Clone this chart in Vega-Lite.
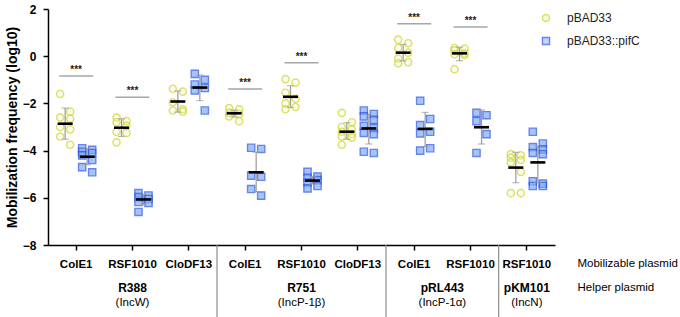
{
  "$schema": "https://vega.github.io/schema/vega-lite/v6.json",
  "width": 507,
  "height": 236,
  "autosize": {"type": "none"},
  "padding": {"left": 48, "top": 9, "right": 125, "bottom": 72},
  "background": "white",
  "config": {
    "font": "Liberation Sans",
    "view": {"stroke": null},
    "axis": {"grid": false, "domainColor": "black", "domainWidth": 1.5, "tickColor": "black", "tickWidth": 1.5, "tickSize": 5, "labelColor": "black", "titleColor": "black", "labelFont": "Liberation Sans", "titleFont": "Liberation Sans"},
    "text": {"font": "Liberation Sans"}
  },
  "datasets": {
    "points": [
      {"group": "R388|ColE1", "strain": "pBAD33", "freq": -1.6},
      {"group": "R388|ColE1", "strain": "pBAD33", "freq": -2.35},
      {"group": "R388|ColE1", "strain": "pBAD33", "freq": -2.6},
      {"group": "R388|ColE1", "strain": "pBAD33", "freq": -2.65},
      {"group": "R388|ColE1", "strain": "pBAD33", "freq": -3.0},
      {"group": "R388|ColE1", "strain": "pBAD33", "freq": -3.1},
      {"group": "R388|ColE1", "strain": "pBAD33", "freq": -3.4},
      {"group": "R388|ColE1", "strain": "pBAD33", "freq": -3.75},
      {"group": "R388|ColE1", "strain": "pBAD33::pifC", "freq": -3.9},
      {"group": "R388|ColE1", "strain": "pBAD33::pifC", "freq": -3.97},
      {"group": "R388|ColE1", "strain": "pBAD33::pifC", "freq": -4.05},
      {"group": "R388|ColE1", "strain": "pBAD33::pifC", "freq": -4.1},
      {"group": "R388|ColE1", "strain": "pBAD33::pifC", "freq": -4.2},
      {"group": "R388|ColE1", "strain": "pBAD33::pifC", "freq": -4.4},
      {"group": "R388|ColE1", "strain": "pBAD33::pifC", "freq": -4.7},
      {"group": "R388|ColE1", "strain": "pBAD33::pifC", "freq": -4.92},
      {"group": "R388|RSF1010", "strain": "pBAD33", "freq": -2.6},
      {"group": "R388|RSF1010", "strain": "pBAD33", "freq": -2.75},
      {"group": "R388|RSF1010", "strain": "pBAD33", "freq": -2.8},
      {"group": "R388|RSF1010", "strain": "pBAD33", "freq": -2.95},
      {"group": "R388|RSF1010", "strain": "pBAD33", "freq": -3.2},
      {"group": "R388|RSF1010", "strain": "pBAD33", "freq": -3.25},
      {"group": "R388|RSF1010", "strain": "pBAD33", "freq": -3.65},
      {"group": "R388|RSF1010", "strain": "pBAD33::pifC", "freq": -5.8},
      {"group": "R388|RSF1010", "strain": "pBAD33::pifC", "freq": -5.9},
      {"group": "R388|RSF1010", "strain": "pBAD33::pifC", "freq": -5.97},
      {"group": "R388|RSF1010", "strain": "pBAD33::pifC", "freq": -6.05},
      {"group": "R388|RSF1010", "strain": "pBAD33::pifC", "freq": -6.18},
      {"group": "R388|RSF1010", "strain": "pBAD33::pifC", "freq": -6.22},
      {"group": "R388|RSF1010", "strain": "pBAD33::pifC", "freq": -6.6},
      {"group": "R388|CloDF13", "strain": "pBAD33", "freq": -1.38},
      {"group": "R388|CloDF13", "strain": "pBAD33", "freq": -1.5},
      {"group": "R388|CloDF13", "strain": "pBAD33", "freq": -1.95},
      {"group": "R388|CloDF13", "strain": "pBAD33", "freq": -2.25},
      {"group": "R388|CloDF13", "strain": "pBAD33", "freq": -2.3},
      {"group": "R388|CloDF13", "strain": "pBAD33", "freq": -2.35},
      {"group": "R388|CloDF13", "strain": "pBAD33::pifC", "freq": -0.75},
      {"group": "R388|CloDF13", "strain": "pBAD33::pifC", "freq": -1.0},
      {"group": "R388|CloDF13", "strain": "pBAD33::pifC", "freq": -1.2},
      {"group": "R388|CloDF13", "strain": "pBAD33::pifC", "freq": -1.35},
      {"group": "R388|CloDF13", "strain": "pBAD33::pifC", "freq": -1.45},
      {"group": "R388|CloDF13", "strain": "pBAD33::pifC", "freq": -2.3},
      {"group": "R751|ColE1", "strain": "pBAD33", "freq": -2.2},
      {"group": "R751|ColE1", "strain": "pBAD33", "freq": -2.25},
      {"group": "R751|ColE1", "strain": "pBAD33", "freq": -2.4},
      {"group": "R751|ColE1", "strain": "pBAD33", "freq": -2.45},
      {"group": "R751|ColE1", "strain": "pBAD33", "freq": -2.55},
      {"group": "R751|ColE1", "strain": "pBAD33", "freq": -2.75},
      {"group": "R751|ColE1", "strain": "pBAD33::pifC", "freq": -3.88},
      {"group": "R751|ColE1", "strain": "pBAD33::pifC", "freq": -3.93},
      {"group": "R751|ColE1", "strain": "pBAD33::pifC", "freq": -5.06},
      {"group": "R751|ColE1", "strain": "pBAD33::pifC", "freq": -5.11},
      {"group": "R751|ColE1", "strain": "pBAD33::pifC", "freq": -5.63},
      {"group": "R751|ColE1", "strain": "pBAD33::pifC", "freq": -5.91},
      {"group": "R751|RSF1010", "strain": "pBAD33", "freq": -0.97},
      {"group": "R751|RSF1010", "strain": "pBAD33", "freq": -1.12},
      {"group": "R751|RSF1010", "strain": "pBAD33", "freq": -1.55},
      {"group": "R751|RSF1010", "strain": "pBAD33", "freq": -1.8},
      {"group": "R751|RSF1010", "strain": "pBAD33", "freq": -2.0},
      {"group": "R751|RSF1010", "strain": "pBAD33", "freq": -2.15},
      {"group": "R751|RSF1010", "strain": "pBAD33", "freq": -2.25},
      {"group": "R751|RSF1010", "strain": "pBAD33::pifC", "freq": -4.9},
      {"group": "R751|RSF1010", "strain": "pBAD33::pifC", "freq": -5.1},
      {"group": "R751|RSF1010", "strain": "pBAD33::pifC", "freq": -5.15},
      {"group": "R751|RSF1010", "strain": "pBAD33::pifC", "freq": -5.25},
      {"group": "R751|RSF1010", "strain": "pBAD33::pifC", "freq": -5.35},
      {"group": "R751|RSF1010", "strain": "pBAD33::pifC", "freq": -5.5},
      {"group": "R751|RSF1010", "strain": "pBAD33::pifC", "freq": -5.6},
      {"group": "R751|CloDF13", "strain": "pBAD33", "freq": -2.4},
      {"group": "R751|CloDF13", "strain": "pBAD33", "freq": -2.8},
      {"group": "R751|CloDF13", "strain": "pBAD33", "freq": -3.0},
      {"group": "R751|CloDF13", "strain": "pBAD33", "freq": -3.1},
      {"group": "R751|CloDF13", "strain": "pBAD33", "freq": -3.2},
      {"group": "R751|CloDF13", "strain": "pBAD33", "freq": -3.3},
      {"group": "R751|CloDF13", "strain": "pBAD33", "freq": -3.4},
      {"group": "R751|CloDF13", "strain": "pBAD33", "freq": -3.45},
      {"group": "R751|CloDF13", "strain": "pBAD33", "freq": -3.75},
      {"group": "R751|CloDF13", "strain": "pBAD33::pifC", "freq": -2.3},
      {"group": "R751|CloDF13", "strain": "pBAD33::pifC", "freq": -2.45},
      {"group": "R751|CloDF13", "strain": "pBAD33::pifC", "freq": -2.55},
      {"group": "R751|CloDF13", "strain": "pBAD33::pifC", "freq": -2.7},
      {"group": "R751|CloDF13", "strain": "pBAD33::pifC", "freq": -2.95},
      {"group": "R751|CloDF13", "strain": "pBAD33::pifC", "freq": -3.05},
      {"group": "R751|CloDF13", "strain": "pBAD33::pifC", "freq": -3.25},
      {"group": "R751|CloDF13", "strain": "pBAD33::pifC", "freq": -3.3},
      {"group": "R751|CloDF13", "strain": "pBAD33::pifC", "freq": -4.05},
      {"group": "R751|CloDF13", "strain": "pBAD33::pifC", "freq": -4.1},
      {"group": "pRL443|ColE1", "strain": "pBAD33", "freq": 0.7},
      {"group": "pRL443|ColE1", "strain": "pBAD33", "freq": 0.55},
      {"group": "pRL443|ColE1", "strain": "pBAD33", "freq": 0.35},
      {"group": "pRL443|ColE1", "strain": "pBAD33", "freq": 0.15},
      {"group": "pRL443|ColE1", "strain": "pBAD33", "freq": -0.1},
      {"group": "pRL443|ColE1", "strain": "pBAD33", "freq": -0.25},
      {"group": "pRL443|ColE1", "strain": "pBAD33", "freq": -0.3},
      {"group": "pRL443|ColE1", "strain": "pBAD33::pifC", "freq": -1.89},
      {"group": "pRL443|ColE1", "strain": "pBAD33::pifC", "freq": -2.66},
      {"group": "pRL443|ColE1", "strain": "pBAD33::pifC", "freq": -2.92},
      {"group": "pRL443|ColE1", "strain": "pBAD33::pifC", "freq": -3.2},
      {"group": "pRL443|ColE1", "strain": "pBAD33::pifC", "freq": -3.27},
      {"group": "pRL443|ColE1", "strain": "pBAD33::pifC", "freq": -3.9},
      {"group": "pRL443|ColE1", "strain": "pBAD33::pifC", "freq": -4.0},
      {"group": "pRL443|RSF1010", "strain": "pBAD33", "freq": 0.35},
      {"group": "pRL443|RSF1010", "strain": "pBAD33", "freq": 0.32},
      {"group": "pRL443|RSF1010", "strain": "pBAD33", "freq": 0.25},
      {"group": "pRL443|RSF1010", "strain": "pBAD33", "freq": 0.12},
      {"group": "pRL443|RSF1010", "strain": "pBAD33", "freq": 0.08},
      {"group": "pRL443|RSF1010", "strain": "pBAD33", "freq": 0.05},
      {"group": "pRL443|RSF1010", "strain": "pBAD33", "freq": -0.55},
      {"group": "pRL443|RSF1010", "strain": "pBAD33::pifC", "freq": -2.4},
      {"group": "pRL443|RSF1010", "strain": "pBAD33::pifC", "freq": -2.5},
      {"group": "pRL443|RSF1010", "strain": "pBAD33::pifC", "freq": -2.75},
      {"group": "pRL443|RSF1010", "strain": "pBAD33::pifC", "freq": -3.3},
      {"group": "pRL443|RSF1010", "strain": "pBAD33::pifC", "freq": -4.1},
      {"group": "pKM101|RSF1010", "strain": "pBAD33", "freq": -4.15},
      {"group": "pKM101|RSF1010", "strain": "pBAD33", "freq": -4.2},
      {"group": "pKM101|RSF1010", "strain": "pBAD33", "freq": -4.3},
      {"group": "pKM101|RSF1010", "strain": "pBAD33", "freq": -4.4},
      {"group": "pKM101|RSF1010", "strain": "pBAD33", "freq": -4.5},
      {"group": "pKM101|RSF1010", "strain": "pBAD33", "freq": -4.9},
      {"group": "pKM101|RSF1010", "strain": "pBAD33", "freq": -5.8},
      {"group": "pKM101|RSF1010", "strain": "pBAD33", "freq": -5.8},
      {"group": "pKM101|RSF1010", "strain": "pBAD33::pifC", "freq": -3.2},
      {"group": "pKM101|RSF1010", "strain": "pBAD33::pifC", "freq": -3.7},
      {"group": "pKM101|RSF1010", "strain": "pBAD33::pifC", "freq": -3.85},
      {"group": "pKM101|RSF1010", "strain": "pBAD33::pifC", "freq": -3.95},
      {"group": "pKM101|RSF1010", "strain": "pBAD33::pifC", "freq": -4.1},
      {"group": "pKM101|RSF1010", "strain": "pBAD33::pifC", "freq": -4.15},
      {"group": "pKM101|RSF1010", "strain": "pBAD33::pifC", "freq": -5.3},
      {"group": "pKM101|RSF1010", "strain": "pBAD33::pifC", "freq": -5.4},
      {"group": "pKM101|RSF1010", "strain": "pBAD33::pifC", "freq": -5.5},
      {"group": "pKM101|RSF1010", "strain": "pBAD33::pifC", "freq": -5.5}
    ],
    "summary": [
      {"group": "R388|ColE1", "strain": "pBAD33", "mean": -2.86, "lo": -2.2, "hi": -3.52},
      {"group": "R388|ColE1", "strain": "pBAD33::pifC", "mean": -4.26, "lo": -3.92, "hi": -4.6},
      {"group": "R388|RSF1010", "strain": "pBAD33", "mean": -3.03, "lo": -2.65, "hi": -3.4},
      {"group": "R388|RSF1010", "strain": "pBAD33::pifC", "mean": -6.07, "lo": -5.85, "hi": -6.3},
      {"group": "R388|CloDF13", "strain": "pBAD33", "mean": -1.92, "lo": -1.47, "hi": -2.37},
      {"group": "R388|CloDF13", "strain": "pBAD33::pifC", "mean": -1.33, "lo": -0.8, "hi": -1.88},
      {"group": "R751|ColE1", "strain": "pBAD33", "mean": -2.42, "lo": -2.28, "hi": -2.58},
      {"group": "R751|ColE1", "strain": "pBAD33::pifC", "mean": -4.92, "lo": -4.07, "hi": -5.74},
      {"group": "R751|RSF1010", "strain": "pBAD33", "mean": -1.72, "lo": -1.25, "hi": -2.17},
      {"group": "R751|RSF1010", "strain": "pBAD33::pifC", "mean": -5.27, "lo": -5.1, "hi": -5.42},
      {"group": "R751|CloDF13", "strain": "pBAD33", "mean": -3.2, "lo": -2.82, "hi": -3.52},
      {"group": "R751|CloDF13", "strain": "pBAD33::pifC", "mean": -3.06, "lo": -2.46, "hi": -3.72},
      {"group": "pRL443|ColE1", "strain": "pBAD33", "mean": 0.15, "lo": 0.5, "hi": -0.2},
      {"group": "pRL443|ColE1", "strain": "pBAD33::pifC", "mean": -3.08, "lo": -2.38, "hi": -3.83},
      {"group": "pRL443|RSF1010", "strain": "pBAD33", "mean": 0.12, "lo": 0.38, "hi": -0.19},
      {"group": "pRL443|RSF1010", "strain": "pBAD33::pifC", "mean": -3.01, "lo": -2.28, "hi": -3.72},
      {"group": "pKM101|RSF1010", "strain": "pBAD33", "mean": -4.72, "lo": -4.07, "hi": -5.36},
      {"group": "pKM101|RSF1010", "strain": "pBAD33::pifC", "mean": -4.5, "lo": -3.8, "hi": -5.35}
    ],
    "sig": [
      {"group": "R388|ColE1", "level": -0.84},
      {"group": "R388|RSF1010", "level": -1.74},
      {"group": "R751|ColE1", "level": -1.39},
      {"group": "R751|RSF1010", "level": -0.28},
      {"group": "pRL443|ColE1", "level": 1.38},
      {"group": "pRL443|RSF1010", "level": 1.24}
    ],
    "sep": [
      {"group": "R751|ColE1"},
      {"group": "pRL443|ColE1"},
      {"group": "pKM101|RSF1010"}
    ],
    "helper": [
      {"group": "R388|RSF1010", "helper": "R388", "inc": "(IncW)"},
      {"group": "R751|RSF1010", "helper": "R751", "inc": "(IncP-1β)"},
      {"group": "pRL443|ColE1", "helper": "pRL443", "inc": "(IncP-1α)"},
      {"group": "pKM101|RSF1010", "helper": "pKM101", "inc": "(IncN)"}
    ]
  },
  "encoding": {
    "x": {
      "field": "group", "type": "nominal",
      "scale": {"domain": ["R388|ColE1", "R388|RSF1010", "R388|CloDF13", "R751|ColE1", "R751|RSF1010", "R751|CloDF13", "pRL443|ColE1", "pRL443|RSF1010", "pKM101|RSF1010"], "paddingInner": 0, "paddingOuter": 0},
      "axis": {
        "labelExpr": "split(datum.value, '|')[1]",
        "labelAngle": 0, "labelFontWeight": "bold", "labelFontSize": 11.5, "labelPadding": 8,
        "title": ["Mobilizable plasmid", "Helper plasmid"],
        "titleFontWeight": "normal", "titleFontSize": 11.5, "titleLineHeight": 24,
        "titleX": 529, "titleY": 12, "titleAlign": "left", "titleBaseline": "top", "titleAngle": 0
      }
    }
  },
  "layer": [
    {
      "data": {"name": "points"},
      "transform": [
        {"filter": "datum.strain == 'pBAD33'"},
        {"window": [{"op": "row_number", "as": "rank"}], "groupby": ["group", "strain"], "sort": [{"field": "freq", "order": "descending"}]},
        {"filter": "datum.rank % 2 == 1"}
      ],
      "mark": {"type": "point", "filled": true, "size": 52, "strokeWidth": 1.4, "xOffset": -16},
      "encoding": {
        "y": {
          "field": "freq", "type": "quantitative",
          "scale": {"domain": [-8, 2], "nice": false, "zero": false},
          "axis": {"values": [-8, -6, -4, -2, 0, 2], "labelFontWeight": "bold", "labelFontSize": 12, "labelPadding": 7,
                   "title": "Mobilization frequency (log10)", "titleFontWeight": "bold", "titleFontSize": 14, "titlePadding": 3}
        },
        "fill": {"field": "strain", "type": "nominal", "scale": {"domain": ["pBAD33", "pBAD33::pifC"], "range": ["#f1f4b4", "#7eaef5"]},
                 "legend": {"orient": "none", "legendX": 492, "legendY": 3, "title": null, "labelFontSize": 12, "labelColor": "#222", "symbolSize": 50, "symbolStrokeWidth": 1.4, "labelOffset": 15, "rowPadding": 9}},
        "stroke": {"field": "strain", "type": "nominal", "scale": {"domain": ["pBAD33", "pBAD33::pifC"], "range": ["#cdd42c", "#2a4fe3"]}, "legend": {"title": null}},
        "shape": {"field": "strain", "type": "nominal", "scale": {"domain": ["pBAD33", "pBAD33::pifC"], "range": ["circle", "square"]}, "legend": {"title": null}},
        "fillOpacity": {"field": "strain", "type": "nominal", "scale": {"domain": ["pBAD33", "pBAD33::pifC"], "range": [0.3, 1]}, "legend": null}
      }
    },
    {
      "data": {"name": "points"},
      "transform": [
        {"filter": "datum.strain == 'pBAD33'"},
        {"window": [{"op": "row_number", "as": "rank"}], "groupby": ["group", "strain"], "sort": [{"field": "freq", "order": "descending"}]},
        {"filter": "datum.rank % 2 == 0"}
      ],
      "mark": {"type": "point", "filled": true, "size": 52, "strokeWidth": 1.4, "xOffset": -6},
      "encoding": {
        "y": {"field": "freq", "type": "quantitative"},
        "fill": {"field": "strain", "type": "nominal", "legend": {"title": null}},
        "stroke": {"field": "strain", "type": "nominal", "legend": {"title": null}},
        "shape": {"field": "strain", "type": "nominal", "legend": {"title": null}},
        "fillOpacity": {"field": "strain", "type": "nominal", "legend": null}
      }
    },
    {
      "data": {"name": "points"},
      "transform": [
        {"filter": "datum.strain == 'pBAD33::pifC'"},
        {"window": [{"op": "row_number", "as": "rank"}], "groupby": ["group", "strain"], "sort": [{"field": "freq", "order": "descending"}]},
        {"filter": "datum.rank % 2 == 1"}
      ],
      "mark": {"type": "point", "filled": true, "size": 52, "strokeWidth": 1.4, "xOffset": 6},
      "encoding": {
        "y": {"field": "freq", "type": "quantitative"},
        "fill": {"field": "strain", "type": "nominal", "legend": {"title": null}},
        "stroke": {"field": "strain", "type": "nominal", "legend": {"title": null}},
        "shape": {"field": "strain", "type": "nominal", "legend": {"title": null}},
        "fillOpacity": {"field": "strain", "type": "nominal", "legend": null}
      }
    },
    {
      "data": {"name": "points"},
      "transform": [
        {"filter": "datum.strain == 'pBAD33::pifC'"},
        {"window": [{"op": "row_number", "as": "rank"}], "groupby": ["group", "strain"], "sort": [{"field": "freq", "order": "descending"}]},
        {"filter": "datum.rank % 2 == 0"}
      ],
      "mark": {"type": "point", "filled": true, "size": 52, "strokeWidth": 1.4, "xOffset": 16},
      "encoding": {
        "y": {"field": "freq", "type": "quantitative"},
        "fill": {"field": "strain", "type": "nominal", "legend": {"title": null}},
        "stroke": {"field": "strain", "type": "nominal", "legend": {"title": null}},
        "shape": {"field": "strain", "type": "nominal", "legend": {"title": null}},
        "fillOpacity": {"field": "strain", "type": "nominal", "legend": null}
      }
    },
    {
      "data": {"name": "summary"},
      "mark": {"type": "rule", "color": "#9a9a9a", "strokeWidth": 1.2},
      "encoding": {
        "y": {"field": "lo", "type": "quantitative"},
        "y2": {"field": "hi"},
        "xOffset": {"field": "strain", "type": "nominal", "scale": {"domain": ["pBAD33", "pBAD33::pifC"], "paddingInner": 0, "paddingOuter": 0.28}}
      }
    },
    {
      "data": {"name": "summary"},
      "mark": {"type": "tick", "color": "#9a9a9a", "size": 7, "thickness": 1.2},
      "encoding": {
        "y": {"field": "lo", "type": "quantitative"},
        "xOffset": {"field": "strain", "type": "nominal"}
      }
    },
    {
      "data": {"name": "summary"},
      "mark": {"type": "tick", "color": "#9a9a9a", "size": 7, "thickness": 1.2},
      "encoding": {
        "y": {"field": "hi", "type": "quantitative"},
        "xOffset": {"field": "strain", "type": "nominal"}
      }
    },
    {
      "data": {"name": "summary"},
      "mark": {"type": "tick", "color": "black", "size": 15, "thickness": 2.6, "opacity": 1},
      "encoding": {
        "y": {"field": "mean", "type": "quantitative"},
        "xOffset": {"field": "strain", "type": "nominal"}
      }
    },
    {
      "data": {"name": "sig"},
      "mark": {"type": "tick", "color": "#808080", "size": 34, "thickness": 1.5},
      "encoding": {"y": {"field": "level", "type": "quantitative"}}
    },
    {
      "data": {"name": "sig"},
      "mark": {"type": "text", "text": "***", "fontSize": 10, "fontWeight": "bold", "color": "#222", "baseline": "bottom", "dy": -1},
      "encoding": {"y": {"field": "level", "type": "quantitative"}}
    },
    {
      "data": {"name": "sep"},
      "mark": {"type": "rule", "color": "#8c8c8c", "strokeWidth": 1.2, "clip": false},
      "encoding": {
        "x": {"field": "group", "type": "nominal", "bandPosition": 0},
        "y": {"datum": -8, "type": "quantitative"},
        "y2": {"datum": -11.4}
      }
    },
    {
      "data": {"name": "helper"},
      "transform": [{"filter": "datum.helper != 'pRL443'"}],
      "mark": {"type": "text", "fontSize": 12, "fontWeight": "bold", "color": "black", "baseline": "middle", "clip": false},
      "encoding": {"text": {"field": "helper"}, "y": {"datum": -9.82, "type": "quantitative"}}
    },
    {
      "data": {"name": "helper"},
      "transform": [{"filter": "datum.helper != 'pRL443'"}],
      "mark": {"type": "text", "fontSize": 11.5, "color": "black", "baseline": "middle", "clip": false},
      "encoding": {"text": {"field": "inc"}, "y": {"datum": -10.46, "type": "quantitative"}}
    },
    {
      "data": {"name": "helper"},
      "transform": [{"filter": "datum.helper == 'pRL443'"}],
      "mark": {"type": "text", "fontSize": 12, "fontWeight": "bold", "color": "black", "baseline": "middle", "clip": false},
      "encoding": {"x": {"field": "group", "type": "nominal", "bandPosition": 1}, "text": {"field": "helper"}, "y": {"datum": -9.82, "type": "quantitative"}}
    },
    {
      "data": {"name": "helper"},
      "transform": [{"filter": "datum.helper == 'pRL443'"}],
      "mark": {"type": "text", "fontSize": 11.5, "color": "black", "baseline": "middle", "clip": false},
      "encoding": {"x": {"field": "group", "type": "nominal", "bandPosition": 1}, "text": {"field": "inc"}, "y": {"datum": -10.46, "type": "quantitative"}}
    }
  ]
}
